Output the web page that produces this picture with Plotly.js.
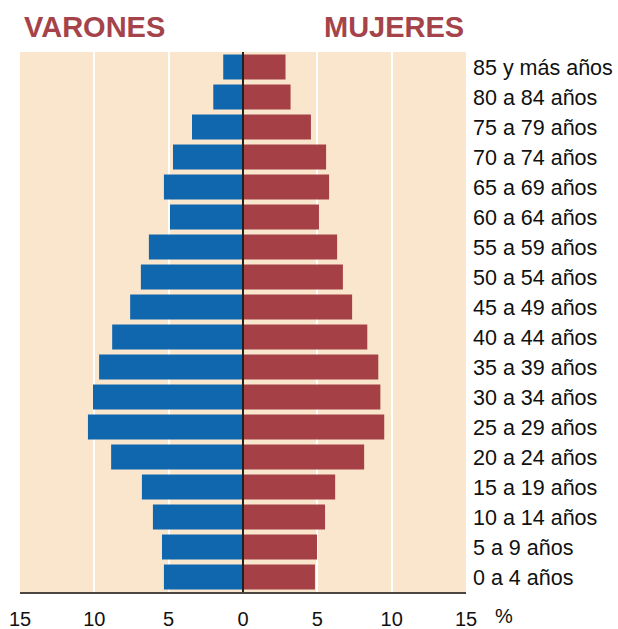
<!DOCTYPE html>
<html>
<head>
<meta charset="utf-8">
<script src="https://cdn.plot.ly/plotly-3.0.1.min.js"></script>
<style>html,body{margin:0;padding:0;background:#fff;}#chart{width:618px;height:629px;}</style>
</head>
<body>
<div id="chart"></div>
<script>
// Age groups, bottom to top
const ageGroups = ["0 a 4 años","5 a 9 años","10 a 14 años","15 a 19 años","20 a 24 años","25 a 29 años","30 a 34 años","35 a 39 años","40 a 44 años","45 a 49 años","50 a 54 años","55 a 59 años","60 a 64 años","65 a 69 años","70 a 74 años","75 a 79 años","80 a 84 años","85 y más años"];
// Percent values
const varones = [5.32, 5.45, 6.06, 6.8, 8.87, 10.43, 10.09, 9.68, 8.8, 7.59, 6.87, 6.33, 4.91, 5.32, 4.71, 3.43, 2.0, 1.33];
const mujeres = [4.84, 4.98, 5.52, 6.2, 8.15, 9.5, 9.24, 9.1, 8.36, 7.34, 6.72, 6.33, 5.11, 5.79, 5.59, 4.57, 3.2, 2.86];
const xTickVals = [-15, -10, -5, 0, 5, 10, 15];
const xTickText = ["15", "10", "5", "0", "5", "10", "15"];

const traces = [
  {type: "bar", orientation: "h", y: ageGroups, x: varones.map(v => -v), name: "Varones",
   marker: {color: "#1167ae"}, hoverinfo: "skip"},
  {type: "bar", orientation: "h", y: ageGroups, x: mujeres, name: "Mujeres",
   marker: {color: "#a54146"}, hoverinfo: "skip"}
];

const layout = {
  width: 618, height: 629,
  margin: {l: 20, r: 152, t: 52, b: 37, pad: 0},
  paper_bgcolor: "#ffffff",
  plot_bgcolor: "#fae6cc",
  barmode: "relative",
  bargap: 0.167,
  showlegend: false,
  font: {family: "Liberation Sans, Arial, sans-serif", color: "#111", size: 20},
  xaxis: {
    range: [-15, 15], tickvals: xTickVals, ticktext: xTickText,
    showgrid: true, gridcolor: "#ffffff", gridwidth: 2,
    zeroline: false, showline: true, linecolor: "#4d4640", linewidth: 2,
    ticks: "", ticklabelstandoff: 8,
    tickfont: {size: 20, color: "#111"}, fixedrange: true
  },
  yaxis: {
    type: "category", categoryorder: "array", categoryarray: ageGroups,
    side: "right", showgrid: false, zeroline: false, showline: false,
    ticks: "", ticklabelstandoff: 6,
    tickfont: {size: 21.5, color: "#111"}, fixedrange: true
  },
  shapes: [
    {type: "line", xref: "x", yref: "paper", x0: 0, x1: 0, y0: 0, y1: 1,
     line: {color: "#222222", width: 2}, layer: "above"}
  ],
  annotations: [
    {text: "VARONES", xref: "paper", yref: "paper", x: 0.004, y: 1.046, xanchor: "left", yanchor: "middle",
     showarrow: false, font: {family: "Liberation Sans, Arial, sans-serif", size: 29, color: "#a5434a", weight: 700}},
    {text: "MUJERES", xref: "paper", yref: "paper", x: 1.0, y: 1.046, xanchor: "right", yanchor: "middle",
     showarrow: false, font: {family: "Liberation Sans, Arial, sans-serif", size: 29, color: "#a5434a", weight: 700}},
    {text: "%", xref: "paper", yref: "paper", x: 1.085, y: -0.0665, xanchor: "center", yanchor: "bottom",
     borderpad: 0, showarrow: false, font: {size: 20, color: "#111"}}
  ]
};

Plotly.newPlot("chart", traces, layout, {displayModeBar: false, staticPlot: true});
</script>
</body>
</html>
